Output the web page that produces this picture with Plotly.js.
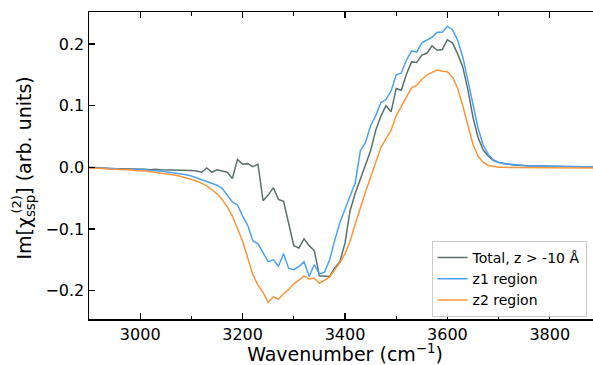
<!DOCTYPE html>
<html>
<head>
<meta charset="utf-8">
<script src="https://cdn.plot.ly/plotly-3.0.1.min.js"></script>
<style>
  html, body { margin: 0; padding: 0; overflow: hidden; background: #ffffff; }
  #chart { width: 602px; height: 365px; }
</style>
</head>
<body>
<div id="chart"></div>
<script>
// Wavenumber grid (cm^-1)
const wavenumber = [
  2900, 2910, 2920, 2930, 2940, 2950, 2960, 2970, 2980, 2990,
  3000, 3010, 3020, 3030, 3040, 3050, 3060, 3070, 3080, 3090,
  3100, 3110, 3120, 3130, 3140, 3150, 3160, 3170, 3180, 3190,
  3200, 3210, 3220, 3230, 3240, 3250, 3260, 3270, 3280, 3290,
  3300, 3310, 3320, 3330, 3340, 3350, 3360, 3370, 3380, 3390,
  3400, 3410, 3420, 3430, 3440, 3450, 3460, 3470, 3480, 3490,
  3500, 3510, 3520, 3530, 3540, 3550, 3560, 3570, 3580, 3590,
  3600, 3610, 3620, 3630, 3640, 3650, 3660, 3670, 3680, 3690,
  3700, 3710, 3720, 3730, 3740, 3750, 3760, 3770, 3780, 3790,
  3800, 3810, 3820, 3830, 3840, 3850, 3860, 3870, 3880, 3890
];

// Im[chi(2)_ssp] spectra, arbitrary units
const totalSpectrum = [
   0.000,  0.000, -0.001, -0.001, -0.002, -0.002, -0.002, -0.003, -0.003, -0.003,
  -0.003, -0.003, -0.004, -0.003, -0.004, -0.004, -0.004, -0.005, -0.004, -0.005,
  -0.005, -0.006, -0.008, -0.001, -0.008, -0.004, -0.006, -0.008, -0.018,  0.013,
   0.005,  0.006,  0.001,  0.005, -0.054, -0.045, -0.033, -0.052, -0.055, -0.092,
  -0.127, -0.131, -0.116, -0.127, -0.135, -0.176, -0.177, -0.177, -0.163, -0.153,
  -0.123, -0.070, -0.042, -0.020,  0.005,  0.027,  0.060,  0.083,  0.100,  0.090,
   0.128,  0.125,  0.151,  0.171,  0.170,  0.182,  0.185,  0.197,  0.190,  0.191,
   0.207,  0.202,  0.184,  0.163,  0.126,  0.081,  0.048,  0.028,  0.018,  0.011,
   0.008,  0.006,  0.005,  0.004,  0.003,  0.003,  0.002,  0.002,  0.002,  0.002,
   0.001,  0.001,  0.001,  0.001,  0.001,  0.001,  0.000,  0.000,  0.000,  0.000
];

const z1Spectrum = [
  -0.001, -0.001, -0.001, -0.002, -0.002, -0.002, -0.003, -0.003, -0.003, -0.004,
  -0.004, -0.004, -0.005, -0.005, -0.006, -0.007, -0.008, -0.009, -0.010, -0.012,
  -0.014, -0.017, -0.020, -0.022, -0.026, -0.029, -0.034, -0.046, -0.056, -0.061,
  -0.079, -0.094, -0.119, -0.124, -0.139, -0.153, -0.150, -0.160, -0.140, -0.164,
  -0.166, -0.161, -0.153, -0.177, -0.158, -0.173, -0.170, -0.150, -0.118, -0.090,
  -0.068, -0.045, -0.025,  0.027,  0.040,  0.068,  0.084,  0.105,  0.110,  0.124,
   0.150,  0.153,  0.174,  0.189,  0.187,  0.202,  0.207,  0.211,  0.219,  0.219,
   0.229,  0.223,  0.206,  0.179,  0.141,  0.101,  0.063,  0.036,  0.021,  0.012,
   0.008,  0.006,  0.005,  0.004,  0.003,  0.003,  0.002,  0.002,  0.002,  0.002,
   0.002,  0.001,  0.001,  0.001,  0.001,  0.001,  0.001,  0.001,  0.001,  0.001
];

const z2Spectrum = [
  -0.001, -0.001, -0.002, -0.002, -0.003, -0.003, -0.003, -0.004, -0.004, -0.005,
  -0.005, -0.006, -0.007, -0.008, -0.009, -0.010, -0.012, -0.013, -0.015, -0.017,
  -0.019, -0.022, -0.026, -0.030, -0.036, -0.043, -0.052, -0.064, -0.079, -0.098,
  -0.120, -0.147, -0.174, -0.191, -0.203, -0.219, -0.210, -0.214, -0.205, -0.198,
  -0.189, -0.183, -0.176, -0.181, -0.180, -0.188, -0.183, -0.178, -0.166, -0.155,
  -0.140, -0.120, -0.092, -0.064, -0.040, -0.016,  0.007,  0.032,  0.046,  0.060,
   0.084,  0.099,  0.115,  0.129,  0.133,  0.143,  0.150,  0.154,  0.158,  0.156,
   0.155,  0.146,  0.128,  0.100,  0.068,  0.037,  0.018,  0.008,  0.003,  0.001,
   0.000,  0.000,  0.000,  0.000, -0.001, -0.001, -0.001, -0.001, -0.001, -0.001,
  -0.001, -0.001, -0.001, -0.001, -0.001, -0.001, -0.001, -0.001, -0.001, -0.001
];

const seriesNames = ['Total, z > -10 Å', 'z1 region', 'z2 region'];
const seriesColors = ['#5a716d', '#4ea2f6', '#fd963a'];
const seriesValues = [totalSpectrum, z1Spectrum, z2Spectrum];

const FONT = 'DejaVu Sans, Liberation Sans, sans-serif';

const traces = seriesValues.map((vals, i) => ({
  x: wavenumber,
  y: vals,
  type: 'scatter',
  mode: 'lines',
  name: seriesNames[i],
  line: { color: seriesColors[i], width: 1.5 }
}));

const layout = {
  width: 602,
  height: 365,
  margin: { l: 89, r: 1, t: 12, b: 46 },
  paper_bgcolor: '#ffffff',
  plot_bgcolor: '#ffffff',
  font: { family: FONT, color: '#000000' },
  showlegend: true,
  xaxis: {
    range: [2900, 3900],
    tick0: 3000,
    dtick: 200,
    ticks: 'inside',
    ticklen: 6,
    tickwidth: 1.3,
    tickcolor: '#000000',
    minor: { ticks: 'inside', ticklen: 3.5, tickwidth: 1.1, dtick: 100, tick0: 2900, tickcolor: '#000000', showgrid: false },
    showline: true,
    linecolor: '#000000',
    linewidth: 1.5,
    mirror: 'allticks',
    showgrid: false,
    zeroline: false,
    tickfont: { family: FONT, size: 16, color: '#000000' },
    title: { text: 'Wavenumber (cm<sup>−1</sup>)', font: { family: FONT, size: 19, color: '#000000' }, standoff: 6 }
  },
  yaxis: {
    range: [-0.246, 0.252],
    tick0: 0,
    dtick: 0.1,
    tickformat: '.1f',
    ticks: 'inside',
    ticklen: 6,
    tickwidth: 1.3,
    tickcolor: '#000000',
    showline: true,
    linecolor: '#000000',
    linewidth: 1.5,
    mirror: 'allticks',
    showgrid: false,
    zeroline: false,
    tickfont: { family: FONT, size: 16, color: '#000000' }
  },
  legend: {
    x: 0.669,
    y: 0.254,
    xanchor: 'left',
    yanchor: 'top',
    bgcolor: 'rgba(255,255,255,0.85)',
    bordercolor: '#cccccc',
    borderwidth: 1,
    font: { family: FONT, size: 14, color: '#000000' }
  },
  annotations: [
    {
      text: 'Im[χ<sub>ssp</sub>] (arb. units)',
      xref: 'paper', yref: 'paper',
      x: -0.123, y: 0.49,
      xanchor: 'center', yanchor: 'middle',
      textangle: -90,
      showarrow: false,
      font: { family: FONT, size: 19, color: '#000000' }
    },
    {
      text: '(2)',
      xref: 'paper', yref: 'paper',
      x: -0.141, y: 0.372,
      xanchor: 'center', yanchor: 'middle',
      textangle: -90,
      showarrow: false,
      font: { family: FONT, size: 13, color: '#000000' }
    }
  ]
};

Plotly.newPlot('chart', traces, layout, { displayModeBar: false, staticPlot: true });
</script>
</body>
</html>
